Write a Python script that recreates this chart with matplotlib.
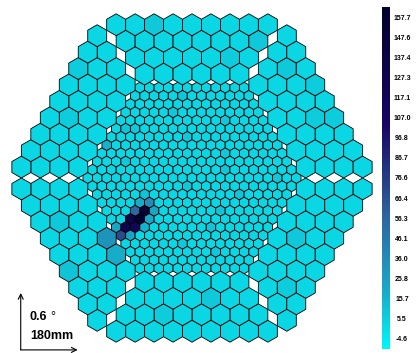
import numpy as np
import matplotlib
matplotlib.use('Agg')
import matplotlib.pyplot as plt
from matplotlib.collections import PolyCollection
from matplotlib.colors import LinearSegmentedColormap, Normalize
from matplotlib.cm import ScalarMappable

plt.rcParams['font.family'] = ['Liberation Sans', 'DejaVu Sans']

# camera geometry in mm: 397 small pixels inside, 6 sectors of large ones outside
small_d = 30.0
big_d = 60.0
n_rings = 11
sector_rows = [6, 7, 8, 9]

# colour scale labels
tick_values = [-4.6, 5.5, 15.7, 25.8, 36.0, 46.1, 56.3, 66.4, 76.6,
               86.7, 96.8, 107.0, 117.1, 127.3, 137.4, 147.6, 157.7]
tick_labels = ['-4.6', '5.5', '15.7', '25.8', '36.0', '46.1', '56.3', '66.4', '76.6',
               '86.7', '96.8', '107.0', '117.1', '127.3', '137.4', '147.6', '157.7']

# signal per pixel: pedestal level everywhere, plus the listed pixels
base_value = 2.5
# inner pixels keyed by (row from top, index in row)
inner_hits = {
    (14, 5): 35.0, (15, 3): 55.0, (15, 4): 150.0, (16, 2): 130.0,
    (16, 3): 157.7, (17, 1): 125.0, (17, 2): 115.0, (18, 0): 70.0,
    (14, 4): 18.0, (15, 5): 22.0, (16, 4): 20.0, (17, 0): 22.0,
    (17, 3): 16.0, (18, 1): 24.0, (13, 5): 10.0,
    (1, 5): 9.0, (3, 5): 8.0, (5, 1): 9.0, (5, 2): 8.0, (6, 8): 8.0,
    (7, 0): 16.0, (9, 3): 8.0, (10, 14): 9.0, (12, 10): 8.0,
    (13, 15): 9.0, (15, 12): 10.0, (17, 10): 9.0, (19, 6): 8.0,
    (11, 20): 8.0, (8, 13): 8.0, (4, 11): 8.0, (20, 9): 8.0,
}
# outer pixels keyed by (sector, row from inside, index in row)
outer_hits = {
    (2, 0, 1): 18.0, (2, 0, 2): 32.0, (2, 3, 3): 10.0,
    (0, 3, 2): 8.0, (0, 2, 7): 8.0, (0, 1, 5): 7.0,
    (5, 2, 1): 8.0, (5, 3, 3): 7.0, (5, 2, 4): 7.0, (5, 3, 5): 7.0,
    (1, 2, 3): 7.0, (1, 3, 6): 7.0, (3, 1, 2): 8.0, (3, 2, 5): 7.0,
    (4, 1, 3): 8.0, (4, 2, 6): 7.0, (2, 2, 5): 8.0,
}

sea = LinearSegmentedColormap.from_list('deepsea', [
    (0.00, (0.00, 0.97, 0.97)),
    (0.16, (0.09, 0.68, 0.79)),
    (0.39, (0.18, 0.39, 0.62)),
    (0.66, (0.09, 0.02, 0.39)),
    (1.00, (0.00, 0.01, 0.17)),
])
step = (tick_values[-1] - tick_values[0]) / (len(tick_values) - 1)
norm = Normalize(tick_values[0] - step / 2, tick_values[-1] + step / 2)


def hexagon(cx, cy, d):
    r = d / np.sqrt(3)
    ang = np.radians(np.arange(30, 390, 60))
    return np.column_stack([cx + r * np.cos(ang), cy + r * np.sin(ang)])


polys = []
values = []

# inner hexagon of small pixels
n_rows = 2 * n_rings + 1
for r in range(n_rows):
    n = n_rows - abs(n_rings - r)
    y = (n_rings - r) * small_d * np.sqrt(3) / 2
    for i in range(n):
        x = (i - (n - 1) / 2) * small_d
        polys.append(hexagon(x, y, small_d))
        values.append(inner_hits.get((r, i), base_value))

# outer sectors: one trapezoid rotated in steps of 60 deg
row0_y = (n_rings * small_d * np.sqrt(3) / 2 + small_d / (2 * np.sqrt(3))
          + big_d / np.sqrt(3))
for k in range(6):
    a = np.radians(60 * k)
    for j, n in enumerate(sector_rows):
        y = row0_y + j * big_d * np.sqrt(3) / 2
        for i in range(n):
            x = (i - (n - 1) / 2) * big_d
            xr = x * np.cos(a) - y * np.sin(a)
            yr = x * np.sin(a) + y * np.cos(a)
            polys.append(hexagon(xr, yr, big_d))
            values.append(outer_hits.get((k, j, i), base_value))

W, H = 418, 353
px_per_mm = 0.316
cx_px, cy_px = 192.0, 178.0

fig = plt.figure(figsize=(W / 100, H / 100), dpi=100)
ax = fig.add_axes([0, 0, 1, 1])
ax.set_xlim(-cx_px / px_per_mm, (W - cx_px) / px_per_mm)
ax.set_ylim((cy_px - H) / px_per_mm, cy_px / px_per_mm)
ax.axis('off')

coll = PolyCollection(polys, array=np.array(values), cmap=sea, norm=norm,
                      edgecolors='black', linewidths=0.6)
ax.add_collection(coll)

# scale arrows: 180 mm = 0.6 deg
x0, y0 = -542.0, -544.0
arrow = dict(arrowstyle='->', lw=0.8, color='black', shrinkA=0, shrinkB=0,
             mutation_scale=9)
ax.annotate('', xy=(x0, y0 + 180), xytext=(x0, y0), arrowprops=arrow)
ax.annotate('', xy=(x0 + 180, y0), xytext=(x0, y0), arrowprops=arrow)
ax.text(x0 + 29, y0 + 95, '0.6', fontsize=9, fontweight='bold', va='baseline')
ax.text(x0 + 92, y0 + 95, '\u00b0', fontsize=9, va='baseline')
ax.text(x0 + 31, y0 + 35, '180mm', fontsize=9, fontweight='bold', va='baseline')

cax = fig.add_axes([382 / W, 4 / H, 8 / W, 342 / H])
cb = fig.colorbar(ScalarMappable(norm=norm, cmap=sea), cax=cax, ticks=tick_values)
cb.outline.set_visible(False)
cax.set_yticklabels(tick_labels)
cax.tick_params(length=0, pad=8.6, labelsize=5)
for tl in cax.get_yticklabels():
    tl.set_ha('center')
    tl.set_fontweight('bold')

fig.savefig('out.png', dpi=100)
